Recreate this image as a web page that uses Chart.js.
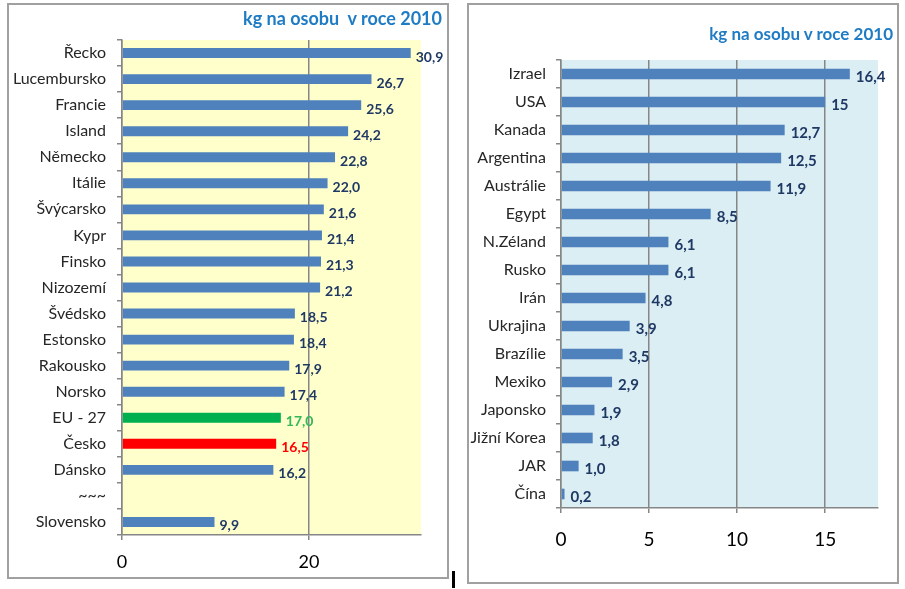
<!DOCTYPE html>
<html>
<head>
<meta charset="utf-8">
<script src="https://cdn.jsdelivr.net/npm/chart.js@4"></script>
<style>
  body { margin: 0; background: #fff; width: 905px; height: 589px; position: relative; overflow: hidden; font-family: Lato, sans-serif; }
  .panel { position: absolute; box-sizing: border-box; border: 2px solid #a0a0a0; background: #fff; }
  .panel canvas { position: absolute; left: 0; top: 0; }
  .title { position: absolute; color: #1f7cc4; font-weight: bold; white-space: pre; }
  #mark { position: absolute; left: 452px; top: 571px; width: 3px; height: 17px; background: #000; }
</style>
</head>
<body>
<div class="panel" style="left:7px; top:3px; width:442px; height:576px;">
  <canvas id="left" width="438" height="572"></canvas>
</div>
<div class="title" style="right:463px; top:7px; font-size:18px;">kg na osobu  v roce 2010</div>

<div class="panel" style="left:467px; top:3px; width:432px; height:581px;">
  <canvas id="right" width="428" height="577"></canvas>
</div>
<div class="title" style="right:12px; top:23px; font-size:17px;">kg na osobu v roce 2010</div>
<div id="mark"></div>

<script>
// left chart: EU countries
const leftCountries = ['Řecko', 'Lucembursko', 'Francie', 'Island', 'Německo', 'Itálie', 'Švýcarsko', 'Kypr',
  'Finsko', 'Nizozemí', 'Švédsko', 'Estonsko', 'Rakousko', 'Norsko', 'EU - 27', 'Česko', 'Dánsko', '~~~', 'Slovensko'];
const leftValues = [30.9, 26.7, 25.6, 24.2, 22.8, 22.0, 21.6, 21.4, 21.3, 21.2, 18.5, 18.4, 17.9, 17.4, 17.0, 16.5, 16.2, null, 9.9];
const leftTicks = [0, 20];

// right chart: rest of the world
const rightCountries = ['Izrael', 'USA', 'Kanada', 'Argentina', 'Austrálie', 'Egypt', 'N.Zéland', 'Rusko',
  'Irán', 'Ukrajina', 'Brazílie', 'Mexiko', 'Japonsko', 'Jižní Korea', 'JAR', 'Čína'];
const rightValues = [16.4, 15, 12.7, 12.5, 11.9, 8.5, 6.1, 6.1, 4.8, 3.9, 3.5, 2.9, 1.9, 1.8, 1.0, 0.2];
const rightValueText = ['16,4', '15', '12,7', '12,5', '11,9', '8,5', '6,1', '6,1', '4,8', '3,9', '3,5', '2,9', '1,9', '1,8', '1,0', '0,2'];
const rightTicks = [0, 5, 10, 15];

const BLUE = '#4f81bd';
const AXIS = '#868686';
const FONT = 'Lato, "DejaVu Sans", sans-serif';

// colour of plot area
const plotBg = {
  id: 'plotBg',
  beforeDraw(chart, args, opts) {
    const a = chart.chartArea;
    chart.ctx.save();
    chart.ctx.fillStyle = opts.color;
    chart.ctx.fillRect(a.left, a.top, a.right - a.left, a.bottom - a.top);
    chart.ctx.restore();
  }
};

// numbers next to the bars
const valueLabels = {
  id: 'valueLabels',
  afterDatasetsDraw(chart, args, opts) {
    const ctx = chart.ctx;
    const meta = chart.getDatasetMeta(0);
    ctx.save();
    ctx.font = opts.font;
    ctx.textBaseline = 'middle';
    meta.data.forEach((bar, i) => {
      const txt = opts.texts[i];
      if (!txt) return;
      ctx.fillStyle = (opts.colors && opts.colors[i]) || opts.color;
      ctx.fillText(txt, bar.x + opts.dx, bar.y + opts.dy);
    });
    ctx.restore();
  }
};

function makeChart(id, cfg) {
  return new Chart(document.getElementById(id), {
    type: 'bar',
    data: {
      labels: cfg.labels,
      datasets: [{
        data: cfg.values,
        backgroundColor: cfg.barColors,
        barPercentage: cfg.barPct,
        categoryPercentage: 1
      }]
    },
    options: {
      indexAxis: 'y',
      responsive: false,
      animation: false,
      layout: { padding: cfg.padding },
      plugins: {
        legend: { display: false },
        tooltip: { enabled: false },
        plotBg: { color: cfg.bg },
        valueLabels: cfg.valueLabels
      },
      scales: {
        x: {
          min: 0,
          max: cfg.max,
          ticks: { stepSize: cfg.step, color: '#000', font: { family: FONT, size: cfg.xFont }, padding: cfg.xPad },
          afterBuildTicks: axis => { axis.ticks = cfg.ticks.map(v => ({ value: v })); },
          afterFit: axis => { axis.height = cfg.xHeight; },
          grid: { color: AXIS, lineWidth: 1.5, tickLength: 5 },
          border: { color: AXIS, width: 1.5 }
        },
        y: {
          ticks: { color: '#262626', font: { family: FONT, size: cfg.yFont }, padding: cfg.yPad, autoSkip: false },
          afterFit: axis => { axis.width = cfg.yWidth; },
          grid: { offset: true, drawOnChartArea: false, color: AXIS, lineWidth: 1.5, tickLength: 5 },
          border: { color: AXIS, width: 1.5 }
        }
      }
    },
    plugins: [plotBg, valueLabels]
  });
}

makeChart('left', {
  labels: leftCountries,
  values: leftValues,
  barColors: leftCountries.map(c => c === 'EU - 27' ? '#00b050' : c === 'Česko' ? '#ff0000' : BLUE),
  barPct: 0.38,
  padding: { top: 35, right: 26, left: 0, bottom: 0 },
  bg: '#ffffcc',
  max: 32, step: 20, ticks: leftTicks,
  xFont: 18, xPad: 11, xHeight: 42,
  yFont: 16, yPad: 11, yWidth: 113,
  valueLabels: {
    texts: leftValues.map(v => v == null ? '' : v.toFixed(1).replace('.', ',')),
    colors: leftCountries.map(c => c === 'EU - 27' ? '#33b85a' : c === 'Česko' ? '#ff0000' : null),
    color: '#1f3864',
    font: 'bold 14px ' + FONT,
    dx: 5, dy: 4
  }
});

makeChart('right', {
  labels: rightCountries,
  values: rightValues,
  barColors: BLUE,
  barPct: 0.38,
  padding: { top: 55, right: 19, left: 0, bottom: 0 },
  bg: '#daeef3',
  max: 18, step: 5, ticks: rightTicks,
  xFont: 19, xPad: 15, xHeight: 74,
  yFont: 16, yPad: 10, yWidth: 92,
  valueLabels: {
    texts: rightValueText,
    color: '#1f3864',
    font: 'bold 15px ' + FONT,
    dx: 6, dy: 3
  }
});
</script>
</body>
</html>
